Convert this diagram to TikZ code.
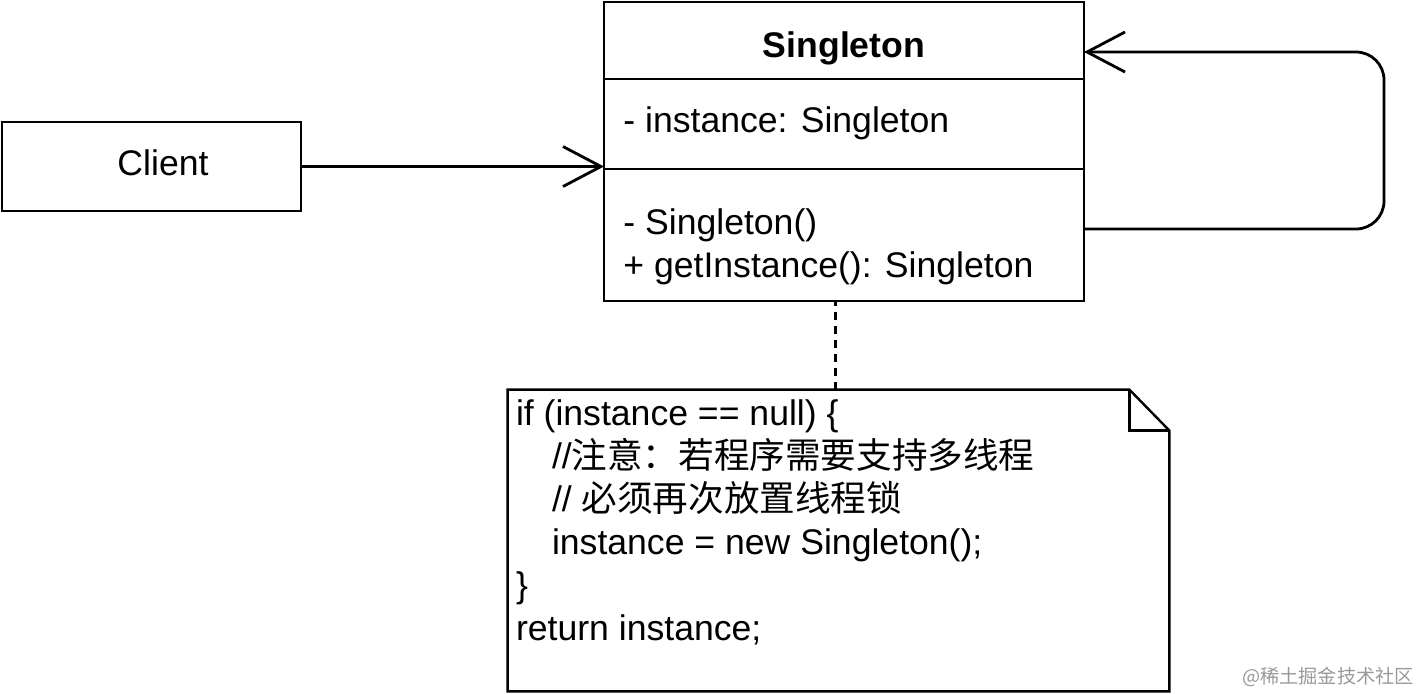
\documentclass[tikz,border=0pt]{standalone}
\usepackage{fontspec}
\setmainfont{Liberation Sans}
\newfontfamily\cjk{Noto Sans CJK SC}
\usepackage{tikz}
\usetikzlibrary{calc}
\usetikzlibrary{arrows.meta, positioning}
\tikzset{>={Straight Barb[length=19pt,width=20pt]}}
\tikzset{box/.style={draw,line width=1.2pt,inner sep=0pt,outer sep=0pt},
  txt/.style={font=\fontsize{17.8}{21.5}\selectfont,inner sep=0pt}}

\begin{document}
\begin{tikzpicture}[x=0.5pt,y=-0.5pt,line width=1.4pt]
\useasboundingbox (0,0) rectangle (1428,693);
\node[box,minimum width=149.5pt,minimum height=44.5pt] (client) at (151.5,166.5) {};
\node[txt] (clientname) at ([xshift=5.75pt,yshift=1.75pt]client.center) {Client};
\node[box,minimum width=240pt,minimum height=38.5pt] (title) at (844,40.5) {};
\node[txt] (titlename) at ([yshift=-4pt]title.center) {\bfseries Singleton};
\node[box,minimum width=240pt,minimum height=45pt,below=0pt of title] (attrs) {};
\node[box,minimum width=240pt,minimum height=66pt,below=0pt of attrs] (ops) {};
\node[txt,anchor=west] (field) at ([xshift=9pt,yshift=0.5pt]attrs.west) {- instance: Singleton};
\node[txt,anchor=west,align=left] (methods) at ([xshift=9pt,yshift=-6pt]ops.west) {- Singleton()\\+ getInstance(): Singleton};
\node[minimum width=329.5pt,minimum height=149.5pt,inner sep=0pt] (note) at (838.5,540.5) {};
\draw[line width=1.2pt] (note.south west) |- ([xshift=-20pt]note.north east) -- ([yshift=-20.5pt]note.north east) -- (note.south east) -- cycle;
\draw[line width=1.2pt] ([xshift=-20pt]note.north east) |- ([yshift=-20.5pt]note.north east);
\node[txt,anchor=north west,align=left] (code) at ([xshift=3.5pt,yshift=-4.5pt]note.north west)
  {if (instance == null) \{\\
   \hspace*{18pt}//{\cjk 注意：若程序需要支持多线程}\\
   \hspace*{18pt}// {\cjk 必须再次放置线程锁}\\
   \hspace*{18pt}instance = new Singleton();\\
   \}\\
   return instance;};
\draw[dashed,line width=1.2pt,dash pattern=on 4pt off 3pt] ([xshift=-1.5pt]note.north) -- ([xshift=-1.5pt]note.north |- ops.south);
\draw[->] (client.east) -- (client.east -| attrs.west);
\coordinate (bend) at (1384,140);
\draw[->,rounded corners=14pt] ([yshift=3pt]ops.east) -| (bend) |- ([yshift=-5.75pt]title.east);
\node[text=black!40,font=\cjk\fontsize{9.6}{12}\selectfont,anchor=east] (mark) at (1422,677) {@稀土掘金技术社区};
\end{tikzpicture}
\end{document}
